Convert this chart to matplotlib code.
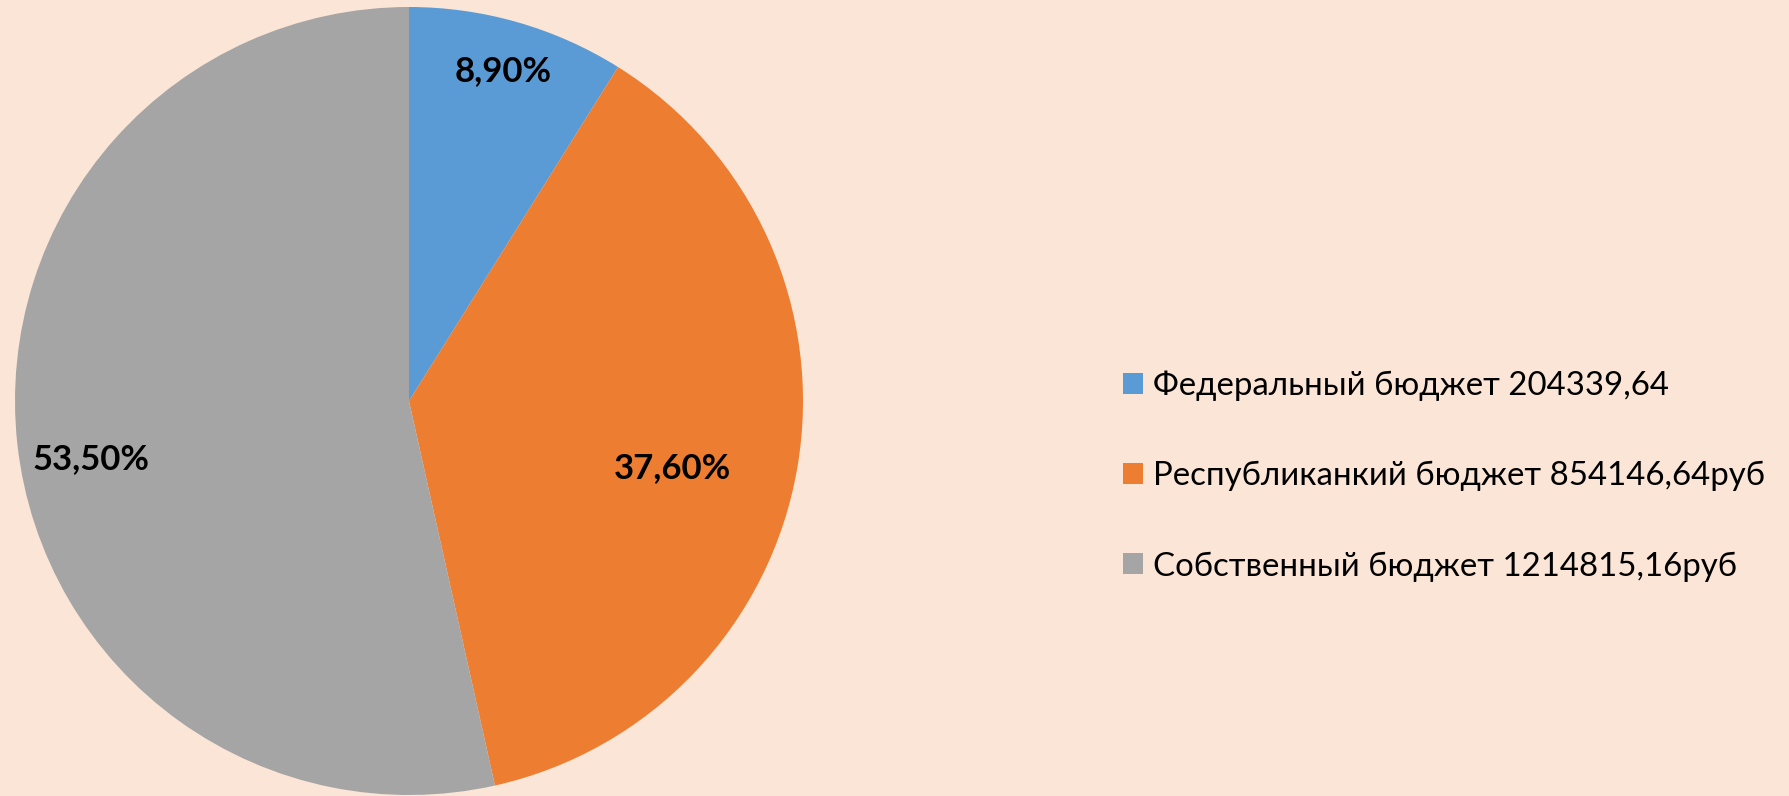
import numpy as np
import matplotlib
matplotlib.use("Agg")
import matplotlib.pyplot as plt
from matplotlib.patches import Patch

categories = ["Федеральный бюджет 204339,64",
              "Республиканкий бюджет 854146,64руб",
              "Собственный бюджет 1214815,16руб"]
shares = [8.9, 37.6, 53.5]
pct_labels = ["8,90%", "37,60%", "53,50%"]
colors = ["#5B9BD5", "#ED7D31", "#A5A5A5"]
label_radius = [0.87, 0.69, 0.82]
label_angle_offset = [0.0, -4.6, 4.1]

bg = "#FBE5D6"
W, H = 1790, 796
fig = plt.figure(figsize=(W / 100, H / 100), dpi=100, facecolor=bg)

cx, cy, R = 409, 401, 394
ax = fig.add_axes([(cx - R) / W, (H - cy - R) / H, 2 * R / W, 2 * R / H])
ax.set_facecolor(bg)
wedges, _ = ax.pie(shares, colors=colors, startangle=90, counterclock=False,
                   radius=1.0, wedgeprops=dict(linewidth=0))
ax.set_xlim(-1, 1)
ax.set_ylim(-1, 1)
ax.set_aspect("equal")
ax.axis("off")

font = ["Lato", "DejaVu Sans"]
for w, txt, rr, off in zip(wedges, pct_labels, label_radius, label_angle_offset):
    ang = np.deg2rad((w.theta1 + w.theta2) / 2 + off)
    ax.text(rr * np.cos(ang), rr * np.sin(ang), txt, ha="center", va="center",
            fontsize=25, fontweight="bold", family=font, color="black")

handles = [Patch(facecolor=c, edgecolor="none") for c in colors]
leg = fig.legend(handles, categories, loc="center left",
                 bbox_to_anchor=(1123 / W, 1 - 476 / H), frameon=False,
                 prop=dict(family=font, size=23.8),
                 handlelength=0.6, handleheight=0.6, handletextpad=0.31,
                 labelspacing=1.82, borderaxespad=0, borderpad=0)

fig.savefig("out.png", dpi=100, facecolor=bg)
